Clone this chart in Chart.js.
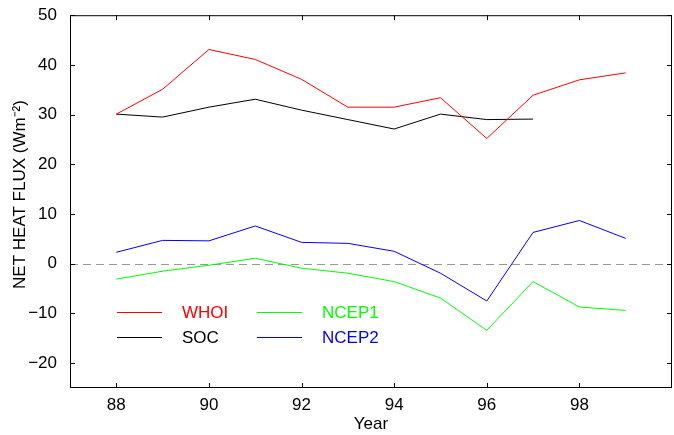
<!DOCTYPE html>
<html>
<head>
<meta charset="utf-8">
<script src="https://cdn.jsdelivr.net/npm/chart.js@4.4.0/dist/chart.umd.min.js"></script>
<style>
  html, body { margin: 0; padding: 0; background: #fff; }
  #wrap { width: 674px; height: 435px; }
</style>
</head>
<body>
<div id="wrap"><canvas id="myChart" width="674" height="435"></canvas></div>
<script>
const years = [88, 89, 90, 91, 92, 93, 94, 95, 96, 97, 98, 99];
const whoi = [30.1, 35.1, 43.1, 41.1, 37.1, 31.5, 31.5, 33.4, 25.2, 33.9, 37.0, 38.4];
const soc = [30.1, 29.5, 31.5, 33.1, 30.9, 29.0, 27.1, 30.1, 29.0, 29.1];
const ncep1 = [-3.1, -1.5, -0.3, 1.1, -0.9, -1.9, -3.6, -6.9, -13.4, -3.6, -8.7, -9.4];
const ncep2 = [2.3, 4.7, 4.6, 7.6, 4.3, 4.1, 2.5, -1.9, -7.5, 6.3, 8.7, 5.1];
const xTicks = [88, 90, 92, 94, 96, 98];
const yTicks = [-20, -10, 0, 10, 20, 30, 40, 50];

const font = "'Liberation Sans', Arial, sans-serif";

function pts(vals) {
    return vals.map((v, i) => ({ x: years[i], y: v }));
}

function series(label, vals, color) {
    return {
        label: label,
        data: pts(vals),
        borderColor: color,
        backgroundColor: color,
        borderWidth: 1,
        pointRadius: 0,
        tension: 0,
        fill: false
    };
}

// box, inward ticks, zero line and legend
const frame = {
    id: 'frame',
    beforeDatasetsDraw(chart) {
        const { ctx, chartArea: a, scales: { y } } = chart;
        ctx.save();
        ctx.strokeStyle = '#999';
        ctx.lineWidth = 1;
        ctx.setLineDash([8, 5]);
        const y0 = Math.round(y.getPixelForValue(0)) + 0.5;
        ctx.beginPath();
        ctx.moveTo(a.left, y0);
        ctx.lineTo(a.right, y0);
        ctx.stroke();
        ctx.restore();
    },
    afterDatasetsDraw(chart) {
        const { ctx, chartArea: a, scales: { x, y } } = chart;
        ctx.save();
        ctx.strokeStyle = '#000';
        ctx.lineWidth = 1;
        ctx.strokeRect(a.left + 0.5, a.top + 0.5, a.right - a.left - 1, a.bottom - a.top - 1);
        ctx.beginPath();
        xTicks.forEach(t => {
            const px = Math.round(x.getPixelForValue(t)) + 0.5;
            ctx.moveTo(px, a.bottom); ctx.lineTo(px, a.bottom - 5);
            ctx.moveTo(px, a.top); ctx.lineTo(px, a.top + 5);
        });
        yTicks.forEach(t => {
            const py = Math.round(y.getPixelForValue(t)) + 0.5;
            ctx.moveTo(a.left, py); ctx.lineTo(a.left + 5, py);
            ctx.moveTo(a.right, py); ctx.lineTo(a.right - 5, py);
        });
        ctx.stroke();

        // legend, two columns inside the plot
        ctx.font = '17px ' + font;
        ctx.textBaseline = 'middle';
        const cols = [117, 257];
        const rows = [312, 337];
        chart.data.datasets.forEach((ds, i) => {
            const lx = cols[Math.floor(i / 2)];
            const ly = rows[i % 2];
            ctx.fillStyle = ds.borderColor;
            ctx.fillRect(lx, ly, 45, 1);
            ctx.fillText(ds.label, lx + 65, ly + 1);
        });
        ctx.restore();
    }
};

const ctx = document.getElementById('myChart').getContext('2d');
const myChart = new Chart(ctx, {
    type: 'line',
    data: {
        datasets: [
            series('WHOI', whoi, '#ff0000'),
            series('SOC', soc, '#000000'),
            series('NCEP1', ncep1, '#00ff00'),
            series('NCEP2', ncep2, '#0000ff')
        ]
    },
    options: {
        responsive: false,
        animation: false,
        layout: { padding: { top: 13, right: 2, left: 0, bottom: 0 } },
        plugins: {
            legend: { display: false },
            tooltip: { enabled: false }
        },
        scales: {
            x: {
                type: 'linear',
                min: 87,
                max: 100,
                grid: { display: false },
                border: { display: false },
                afterBuildTicks: s => { s.ticks = xTicks.map(v => ({ value: v })); },
                afterFit: s => { s.height = 47; },
                ticks: {
                    color: '#000',
                    padding: -1,
                    maxRotation: 0,
                    font: { family: font, size: 17 }
                },
                title: {
                    display: true,
                    text: 'Year',
                    color: '#000',
                    padding: { top: 0, bottom: 0 },
                    font: { family: font, size: 17 }
                }
            },
            y: {
                min: -25,
                max: 50,
                grid: { display: false },
                border: { display: false },
                afterBuildTicks: s => { s.ticks = yTicks.map(v => ({ value: v })); },
                afterFit: s => { s.width = 70; },
                ticks: {
                    color: '#000',
                    padding: 5,
                    font: { family: font, size: 17 },
                    callback: v => String(v).replace('-', '\u2212')
                },
                title: {
                    display: true,
                    text: '   NET HEAT FLUX (Wm\u207B\u00B2)',
                    color: '#000',
                    padding: { top: 10, bottom: 0 },
                    font: { family: font, size: 17 }
                }
            }
        }
    },
    plugins: [frame]
});
</script>
</body>
</html>
